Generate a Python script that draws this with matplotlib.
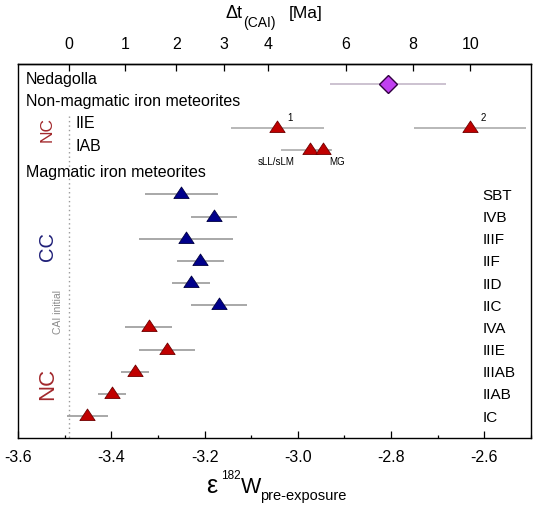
import numpy as np
import matplotlib
matplotlib.use('Agg')
import matplotlib.pyplot as plt
from matplotlib.path import Path
from matplotlib.ticker import MultipleLocator, FixedLocator
import matplotlib.transforms as mtransforms

plt.rcParams['font.family'] = ['Liberation Sans', 'DejaVu Sans']

# ---------------- data ----------------
ned_label = 'Nedagolla'
ned_vals = [-2.807]
ned_err = [0.125]

iie_label = 'IIE'
iie_vals = [-3.044, -2.631]
iie_err = [0.10, 0.12]
iie_tags = ['1', '2']

iab_label = 'IAB'
iab_vals = [-2.973, -2.947]
iab_err_lo = [0.063, 0.020]
iab_err_hi = [0.045, 0.020]
iab_tags = ['sLL/sLM', 'MG']

mag_groups = ['SBT', 'IVB', 'IIIF', 'IIF', 'IID', 'IIC', 'IVA', 'IIIE', 'IIIAB', 'IIAB', 'IC']
mag_vals = [-3.250, -3.180, -3.240, -3.209, -3.229, -3.168, -3.320, -3.281, -3.350, -3.398, -3.451]
mag_err = [0.078, 0.05, 0.10, 0.05, 0.04, 0.06, 0.05, 0.06, 0.03, 0.03, 0.043]
mag_class = ['CC'] * 6 + ['NC'] * 5

x_ticks = [-3.6, -3.4, -3.2, -3.0, -2.8, -2.6]
top_ticks = [0, 1, 2, 3, 4, 6, 8, 10]
eps_cai = -3.49
eps_chur = -1.9
half_life = 8.9  # Ma (182Hf)

# ---------------- styles ----------------
RED = '#c00000'; RED_E = '#6e0000'
BLUE = '#00008b'; BLUE_E = '#000040'
VIOLET = '#c040f0'; VIOLET_E = '#300040'
NC_COL = '#a2282c'; CC_COL = '#1f1f78'
tri = Path([(0, 0.98), (-1, -0.53), (1, -0.53), (0, 0.98)],
           [Path.MOVETO, Path.LINETO, Path.LINETO, Path.CLOSEPOLY])

W, H = 537, 507
fig = plt.figure(figsize=(W / 100, H / 100), dpi=100)
ax = fig.add_axes([18 / W, 1 - 437.7 / H, 513 / W, (437.7 - 64) / H])

# rows
row_ned = 0
row_iie = 2
row_iab = 3
rows_mag = np.arange(5, 5 + len(mag_groups))

ax.set_xlim(-3.6, -2.5)
ax.set_ylim(15.98, -0.89)

# CAI initial line
ax.vlines(eps_cai, 1.45, 15.98, colors='#9a9a9a', linestyles=(0, (1, 2.2)), lw=1.0, zorder=1)

# Nedagolla
ax.errorbar(ned_vals, [row_ned] * len(ned_vals), xerr=ned_err, fmt='none',
            ecolor='#c4b8c8', elinewidth=1.2, capsize=0, zorder=2)
ax.plot(ned_vals, [row_ned] * len(ned_vals), ls='none', marker='D', ms=9.5,
        mfc=VIOLET, mec=VIOLET_E, mew=1.0, zorder=3)

# IIE
ax.errorbar(iie_vals, [row_iie] * len(iie_vals), xerr=iie_err, fmt='none',
            ecolor='#ababab', elinewidth=1.2, capsize=0, zorder=2)
ax.plot(iie_vals, [row_iie] * len(iie_vals), ls='none', marker=tri, ms=11,
        mfc=RED, mec=RED_E, mew=0.6, zorder=3)
for v, t in zip(iie_vals, iie_tags):
    ax.annotate(t, (v, row_iie), xytext=(9.5, 7.5), textcoords='offset points',
                ha='center', va='center', fontsize=7)

# IAB
ax.errorbar(iab_vals, [row_iab] * len(iab_vals), xerr=[iab_err_lo, iab_err_hi], fmt='none',
            ecolor='#ababab', elinewidth=1.2, capsize=0, zorder=2)
ax.plot(iab_vals, [row_iab] * len(iab_vals), ls='none', marker=tri, ms=11,
        mfc=RED, mec=RED_E, mew=0.6, zorder=3)
ax.annotate(iab_tags[0], (iab_vals[0], row_iab), xytext=(-24.5, -8.3), textcoords='offset points',
            ha='center', va='center', fontsize=7)
ax.annotate(iab_tags[1], (iab_vals[1], row_iab), xytext=(10.8, -8.5), textcoords='offset points',
            ha='center', va='center', fontsize=7)

# Magmatic
for v, r, e, c in zip(mag_vals, rows_mag, mag_err, mag_class):
    fc, ec = (BLUE, BLUE_E) if c == 'CC' else (RED, RED_E)
    ax.errorbar([v], [r], xerr=[e], fmt='none', ecolor='#9a9a9a', elinewidth=1.2,
                capsize=0, zorder=2)
    ax.plot([v], [r], ls='none', marker=tri, ms=11, mfc=fc, mec=ec, mew=0.6, zorder=3)

# labels
tr = mtransforms.blended_transform_factory(ax.transAxes, ax.transData)
lab_fs = 11.5
ax.text(0.0156, row_ned, ned_label, transform=tr, ha='left', va='baseline', fontsize=lab_fs)
ax.text(0.0156, 1.0, 'Non-magmatic iron meteorites', transform=tr, ha='left', va='baseline', fontsize=lab_fs)
ax.text(0.113, row_iie, iie_label, transform=tr, ha='left', va='baseline', fontsize=lab_fs)
ax.text(0.113, row_iab + 0.05, iab_label, transform=tr, ha='left', va='baseline', fontsize=lab_fs)
ax.text(0.0156, 4.2, 'Magmatic iron meteorites', transform=tr, ha='left', va='baseline',
        fontsize=lab_fs, zorder=4)
for g, r in zip(mag_groups, rows_mag):
    ax.text(0.906, r + 0.25, g, transform=tr, ha='left', va='baseline', fontsize=11)

ax.text(0.0575, 2.06, 'NC', transform=tr, rotation=90, ha='center', va='center',
        fontsize=12.5, color=NC_COL)
ax.text(0.0575, 7.37, 'CC', transform=tr, rotation=90, ha='center', va='center',
        fontsize=14.5, color=CC_COL)
ax.text(0.0575, 13.56, 'NC', transform=tr, rotation=90, ha='center', va='center',
        fontsize=16, color=NC_COL)
ax.text(0.078, 10.31, 'CAI initial', transform=tr, rotation=90, ha='center', va='center',
        fontsize=7.5, color='#8a8a8a')

# axes styling
ax.set_yticks([])
ax.xaxis.set_major_locator(FixedLocator(x_ticks))
ax.xaxis.set_minor_locator(MultipleLocator(0.1))
ax.set_xticklabels(['%.1f' % t for t in x_ticks])
ax.tick_params(axis='x', which='major', direction='in', length=5, width=0.9,
               labelsize=11.5, pad=8.8)
ax.tick_params(axis='x', which='minor', direction='in', length=2.5, width=0.9)
for s in ax.spines.values():
    s.set_linewidth(1.0)

lam = np.log(2) / half_life


def eps2t(e):
    e = np.asarray(e, dtype=float)
    r = (e - eps_chur) / (eps_cai - eps_chur)
    r = np.clip(r, 1e-6, None)
    return -np.log(r) / lam


def t2eps(t):
    t = np.asarray(t, dtype=float)
    return eps_chur + (eps_cai - eps_chur) * np.exp(-lam * t)


sec = ax.secondary_xaxis('top', functions=(eps2t, t2eps))
sec.set_xticks(top_ticks)
sec.set_xticklabels([str(t) for t in top_ticks])
sec.tick_params(axis='x', which='major', direction='in', length=5, width=0.9,
                labelsize=11.5, pad=8.8)
sec.xaxis.set_minor_locator(FixedLocator([]))
sec.spines['top'].set_linewidth(1.0)


def ptext(x, y, s, fs, **kw):
    fig.text(x / W, 1 - y / H, s, fontsize=fs, ha='left', va='baseline', **kw)


# top axis title
ptext(225, 18.3, 'Δt', 13)
ptext(243.5, 26.5, '(CAI)', 10)
ptext(289, 18.3, '[Ma]', 12.5)

# bottom axis title
ptext(206.5, 493.3, 'ε', 18)
ptext(221.5, 479.3, '182', 8.5)
ptext(240.5, 493.3, 'W', 15.5)
ptext(260.5, 500, 'pre-exposure', 10.5)

fig.savefig('out.png', dpi=100)
